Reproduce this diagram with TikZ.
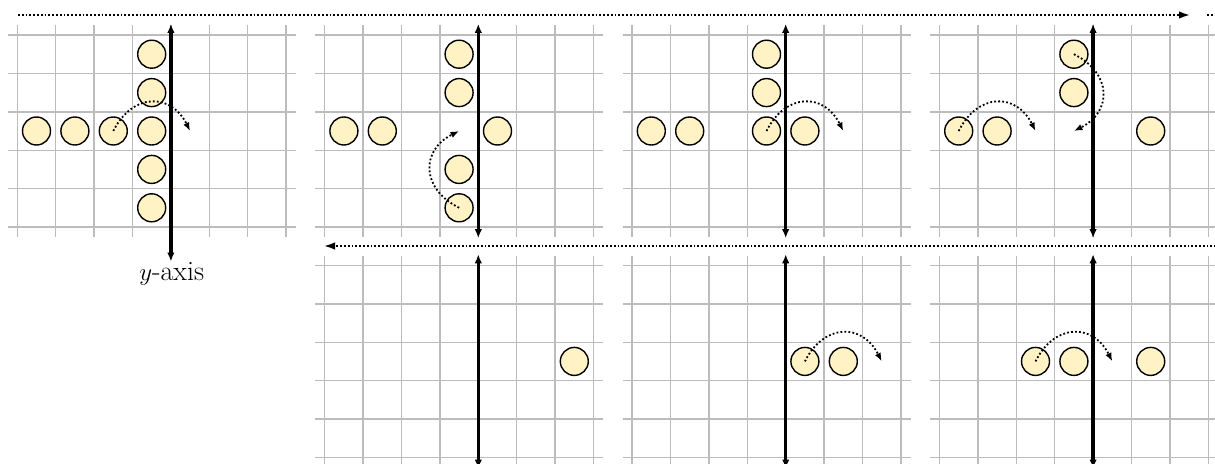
\documentclass[tikz,border=0pt]{standalone}
\usetikzlibrary{arrows.meta}
\definecolor{gridgray}{RGB}{188,188,188}
\definecolor{coinfill}{RGB}{255,243,198}
\tikzset{
  gridline/.style={draw=gridgray, line width=1.4pt},
  axisline/.style={line width=3.4pt, {Latex[length=9pt,width=7.5pt]}-{Latex[length=9pt,width=7.5pt]}},
  coin/.style={circle, draw=black, fill=coinfill, line width=1.4pt, minimum size=28pt, inner sep=0pt},
  moveline/.style={line width=1.8pt, dash pattern=on 1.8pt off 2.2pt, -{Latex[length=8.5pt,width=6.5pt]}},
  flowline/.style={line width=1.8pt, dash pattern=on 1.8pt off 2pt, -{Latex[length=11pt,width=7.5pt]}},
  plainflow/.style={line width=1.8pt, dash pattern=on 1.8pt off 2pt},
  cellscope/.style={x=38.4pt, y=-38.4pt}
}
\newcommand\panelgrid{%
  \foreach \k in {0,...,5} {\draw[gridline] (-0.25,\k) -- (7.25,\k);}
  \foreach \j in {0,...,7} {\draw[gridline] (\j,-0.25) -- (\j,5.25);}
}
\begin{document}
\begin{tikzpicture}[x=1pt, y=-1pt]
\useasboundingbox (0,0) rectangle (1215,463);
\fill[white] (0,0) rectangle (1215,463);

% ---------- top row, panel 1 ----------
\begin{scope}[shift={(17.3,35)}, cellscope]
  \panelgrid
  \coordinate (ax1t) at (4,-0.29);
  \coordinate (ax1b) at (4,5.9);
  \draw[axisline] (ax1t) -- (ax1b);
  \node[coin] (a1) at (3.5,0.5) {};
  \node[coin] (a2) at (3.5,1.5) {};
  \node[coin] (a3) at (3.5,2.5) {};
  \node[coin] (a4) at (3.5,3.5) {};
  \node[coin] (a5) at (3.5,4.5) {};
  \node[coin] (a6) at (0.5,2.5) {};
  \node[coin] (a7) at (1.5,2.5) {};
  \node[coin] (a8) at (2.5,2.5) {};
  \coordinate (a9) at (4.5,2.5);
  \draw[moveline] (a8.center) .. controls (3,1.5) and (4,1.5) .. (a9);
\end{scope}
\node[anchor=base, inner sep=0pt, font=\fontsize{28}{33}\selectfont] (ylab) at (171.7,280) {$y$-axis};

% ---------- top row, panel 2 ----------
\begin{scope}[shift={(324.7,35)}, cellscope]
  \panelgrid
  \coordinate (ax2t) at (4,-0.29);
  \coordinate (ax2b) at (4,5.29);
  \draw[axisline] (ax2t) -- (ax2b);
  \node[coin] (b1) at (3.5,0.5) {};
  \node[coin] (b2) at (3.5,1.5) {};
  \node[coin] (b3) at (3.5,3.5) {};
  \node[coin] (b4) at (3.5,4.5) {};
  \node[coin] (b5) at (0.5,2.5) {};
  \node[coin] (b6) at (1.5,2.5) {};
  \node[coin] (b7) at (4.5,2.5) {};
  \coordinate (b8) at (3.5,2.5);
  \draw[moveline] (b4.center) .. controls (2.5,4) and (2.5,3) .. (b8);
\end{scope}

% ---------- top row, panel 3 ----------
\begin{scope}[shift={(632.1,35)}, cellscope]
  \panelgrid
  \coordinate (ax3t) at (4,-0.29);
  \coordinate (ax3b) at (4,5.29);
  \draw[axisline] (ax3t) -- (ax3b);
  \node[coin] (c1) at (3.5,0.5) {};
  \node[coin] (c2) at (3.5,1.5) {};
  \node[coin] (c3) at (3.5,2.5) {};
  \node[coin] (c4) at (4.5,2.5) {};
  \node[coin] (c5) at (0.5,2.5) {};
  \node[coin] (c6) at (1.5,2.5) {};
  \coordinate (c7) at (5.5,2.5);
  \draw[moveline] (c3.center) .. controls (4,1.5) and (5,1.5) .. (c7);
\end{scope}

% ---------- top row, panel 4 ----------
\begin{scope}[shift={(939.5,35)}, cellscope]
  \panelgrid
  \coordinate (ax4t) at (4,-0.29);
  \coordinate (ax4b) at (4,5.29);
  \draw[axisline] (ax4t) -- (ax4b);
  \node[coin] (d1) at (3.5,0.5) {};
  \node[coin] (d2) at (3.5,1.5) {};
  \node[coin] (d3) at (0.5,2.5) {};
  \node[coin] (d4) at (1.5,2.5) {};
  \node[coin] (d5) at (5.5,2.5) {};
  \coordinate (d6) at (2.5,2.5);
  \coordinate (d7) at (3.5,2.5);
  \draw[moveline] (d3.center) .. controls (1,1.5) and (2,1.5) .. (d6);
  \draw[moveline] (d1.center) .. controls (4.5,1) and (4.5,2) .. (d7);
\end{scope}

% ---------- bottom row, panel 2 ----------
\begin{scope}[shift={(324.7,265.4)}, cellscope]
  \panelgrid
  \coordinate (ax5t) at (4,-0.29);
  \coordinate (ax5b) at (4,5.29);
  \draw[axisline] (ax5t) -- (ax5b);
  \node[coin] (e1) at (6.5,2.5) {};
\end{scope}

% ---------- bottom row, panel 3 ----------
\begin{scope}[shift={(632.1,265.4)}, cellscope]
  \panelgrid
  \coordinate (ax6t) at (4,-0.29);
  \coordinate (ax6b) at (4,5.29);
  \draw[axisline] (ax6t) -- (ax6b);
  \node[coin] (f1) at (4.5,2.5) {};
  \node[coin] (f2) at (5.5,2.5) {};
  \coordinate (f3) at (6.5,2.5);
  \draw[moveline] (f1.center) .. controls (5,1.5) and (6,1.5) .. (f3);
\end{scope}

% ---------- bottom row, panel 4 ----------
\begin{scope}[shift={(939.5,265.4)}, cellscope]
  \panelgrid
  \coordinate (ax7t) at (4,-0.29);
  \coordinate (ax7b) at (4,5.29);
  \draw[axisline] (ax7t) -- (ax7b);
  \node[coin] (g1) at (2.5,2.5) {};
  \node[coin] (g2) at (3.5,2.5) {};
  \node[coin] (g3) at (5.5,2.5) {};
  \coordinate (g4) at (4.5,2.5);
  \draw[moveline] (g1.center) .. controls (3,1.5) and (4,1.5) .. (g4);
\end{scope}

% ---------- flow arrows ----------
\coordinate (f1s) at (18,15);
\coordinate (f1e) at (1190,15);
\draw[flowline] (f1s) -- (f1e);
\coordinate (f2s) at (1207,15);
\coordinate (f2e) at (1216,15);
\draw[plainflow] (f2s) -- (f2e);
\coordinate (f3s) at (1216,246);
\coordinate (f3e) at (324,246);
\draw[flowline] (f3s) -- (f3e);
\end{tikzpicture}
\end{document}
